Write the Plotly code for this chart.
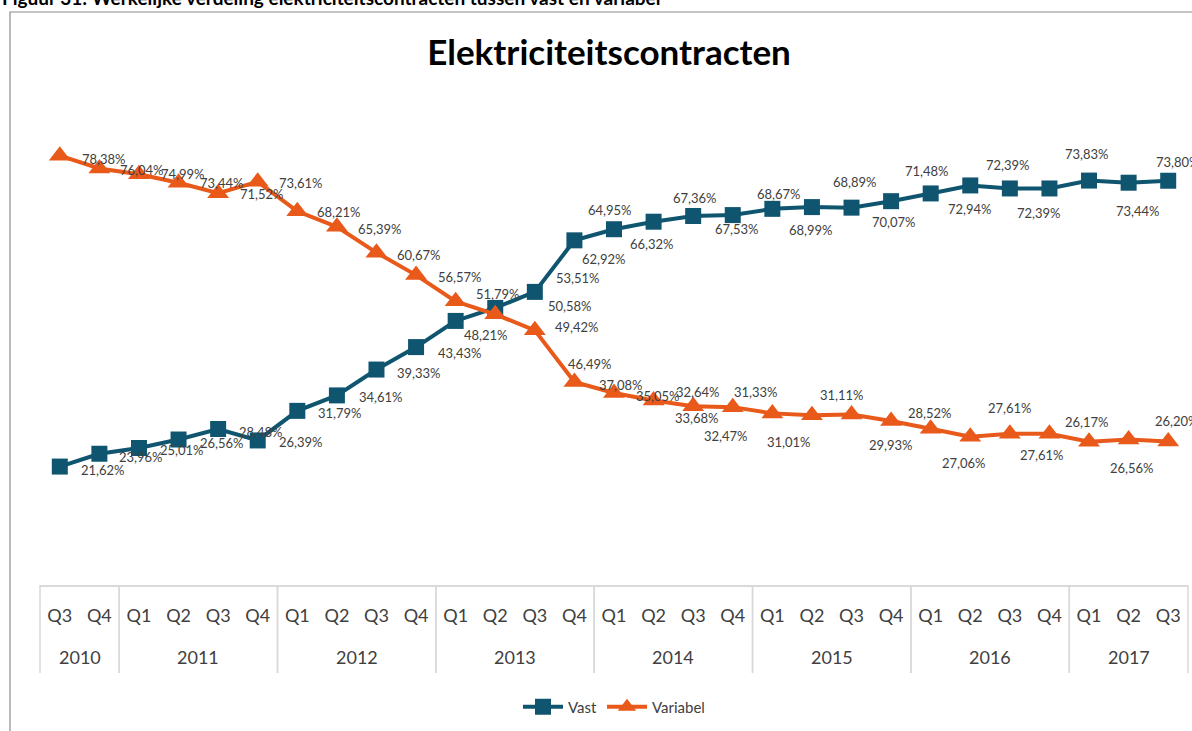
"""Elektriciteitscontracten: vast vs variabel (Excel-stijl lijngrafiek)."""
import plotly.graph_objects as go

QUARTERS = ["Q3", "Q4",
            "Q1", "Q2", "Q3", "Q4",
            "Q1", "Q2", "Q3", "Q4",
            "Q1", "Q2", "Q3", "Q4",
            "Q1", "Q2", "Q3", "Q4",
            "Q1", "Q2", "Q3", "Q4",
            "Q1", "Q2", "Q3", "Q4",
            "Q1", "Q2", "Q3"]
YEARS = ["2010"] * 2 + ["2011"] * 4 + ["2012"] * 4 + ["2013"] * 4 + \
        ["2014"] * 4 + ["2015"] * 4 + ["2016"] * 4 + ["2017"] * 3

VAST = [21.62, 23.96, 25.01, 26.56, 28.48, 26.39, 31.79, 34.61, 39.33, 43.43,
        48.21, 50.58, 53.51, 62.92, 64.95, 66.32, 67.36, 67.53, 68.67, 68.99,
        68.89, 70.07, 71.48, 72.94, 72.39, 72.39, 73.83, 73.44, 73.80]
VARIABEL = [78.38, 76.04, 74.99, 73.44, 71.52, 73.61, 68.21, 65.39, 60.67, 56.57,
            51.79, 49.42, 46.49, 37.08, 35.05, 33.68, 32.64, 32.47, 31.33, 31.01,
            31.11, 29.93, 28.52, 27.06, 27.61, 27.61, 26.17, 26.56, 26.20]

# label offsets in px (dx right, dy down) zoals handmatig geplaatst in Excel
VAST_OFFS = [(43, 3), (42, 3), (43, 2), (43, 3), (43, 3), (43, 2), (43, 2), (44, 2),
             (43, 3), (44, 6), (30, 14), (75, -2), (43, -14), (30, 19), (-4, -19),
             (-2, 22), (2, -18), (4, 14), (7, -15), (-1, 23), (3, -26), (3, 21),
             (-4, -22), (0, 24), (-2, -23), (-10, 25), (-2, -27), (9, 28), (10, -19)]
VAR_OFFS = [(44, 3), (43, 2), (44, 0), (43, 0), (44, 1), (43, 1), (42, 1), (43, 2),
            (43, 2), (44, 2), (42, -7), (82, 13), (55, 34), (47, 3), (44, 3),
            (43, 17), (5, -14), (-7, 29), (-16, -21), (-23, 27), (-10, -20), (0, 24),
            (-1, -16), (-6, 26), (0, -26), (-7, 21), (-2, -20), (3, 28), (9, -20)]

C_VAST = "#0F5570"
C_VAR = "#E8591A"
TXT = "#404040"
GRID = "#D9D9D9"
FONT = "Lato, 'Open Sans', sans-serif"

W, H = 1192, 731
PL, PR, PT, PB = 40, 1188, 92, 585   # plot area in px
Y_MAX = 90


def _px(p):
    return (p - PL) / (PR - PL)


def _py(p):
    return (PB - p) / (PB - PT)


def _pct(v):
    return f"{v:.2f}".replace(".", ",") + "%"


x = list(range(len(QUARTERS)))

fig = go.Figure()
fig.add_trace(go.Scatter(
    x=x, y=VAST, name="Vast", mode="lines+markers",
    line=dict(color=C_VAST, width=4),
    marker=dict(symbol="square", size=16, color=C_VAST),
))
fig.add_trace(go.Scatter(
    x=x, y=VARIABEL, name="Variabel", mode="lines+markers",
    line=dict(color=C_VAR, width=4),
    marker=dict(symbol="triangle-up", size=19, color=C_VAR),
))

anns = []
for vals, offs in ((VAST, VAST_OFFS), (VARIABEL, VAR_OFFS)):
    for i, (v, (dx, dy)) in enumerate(zip(vals, offs)):
        anns.append(dict(x=i, y=v, text=_pct(v), showarrow=False,
                         xshift=dx, yshift=-dy,
                         font=dict(family=FONT, size=13, color=TXT)))

# jaartallen onder de kwartalen + scheidingslijnen
shapes = []
n = len(QUARTERS)
groups = []
for i, yr in enumerate(YEARS):
    if groups and groups[-1][0] == yr:
        groups[-1][2] = i
    else:
        groups.append([yr, i, i])
for yr, i0, i1 in groups:
    anns.append(dict(x=(i0 + i1) / 2, y=_py(657), xref="x", yref="paper",
                     text=yr, showarrow=False, yanchor="middle",
                     font=dict(family=FONT, size=18, color=TXT)))
    for b in (i0 - 0.5, i1 + 0.5):
        xp = (b + 0.5) / n
        shapes.append(dict(type="line", xref="paper", yref="paper",
                           x0=xp, x1=xp, y0=0, y1=_py(673),
                           line=dict(color=GRID, width=1.5)))

# kader rond de grafiek + afgesneden figuurtitel
shapes.append(dict(type="rect", xref="paper", yref="paper", layer="below",
                   x0=_px(10), x1=_px(1300), y0=_py(900), y1=_py(12),
                   line=dict(color="#8C8C8C", width=1.2)))
anns.append(dict(x=_px(0), y=_py(11), xref="paper", yref="paper",
                 xanchor="left", yanchor="bottom", showarrow=False,
                 text="<b>Figuur 31: Werkelijke verdeling elektriciteitscontracten tussen vast en variabel</b>",
                 font=dict(family=FONT, size=19, color="#000000")))

fig.update_layout(
    width=W, height=H, autosize=False,
    paper_bgcolor="#ffffff", plot_bgcolor="#ffffff",
    margin=dict(l=PL, r=W - PR, t=PT, b=H - PB, pad=0),
    font=dict(family=FONT, color=TXT),
    title=dict(text="<b>Elektriciteitscontracten</b>", x=609 / W, xref="container",
               xanchor="center", y=1 - 53 / H, yanchor="middle",
               font=dict(family=FONT, size=35, color="#000000")),
    xaxis=dict(range=[-0.5, n - 0.5], tickvals=x, ticktext=QUARTERS,
               showgrid=False, zeroline=False, showline=True,
               linecolor=GRID, linewidth=1.5, ticks="",
               ticklabelstandoff=14,
               tickfont=dict(family=FONT, size=18, color=TXT)),
    yaxis=dict(range=[0, Y_MAX], visible=False),
    legend=dict(orientation="h", x=0.5, xanchor="center", y=_py(707), yanchor="middle",
                font=dict(family=FONT, size=15, color=TXT), itemwidth=40),
    annotations=anns, shapes=shapes,
    showlegend=True,
)

fig.write_html("out.html", config={"displayModeBar": False},
               post_script="document.body.style.margin='0';")
